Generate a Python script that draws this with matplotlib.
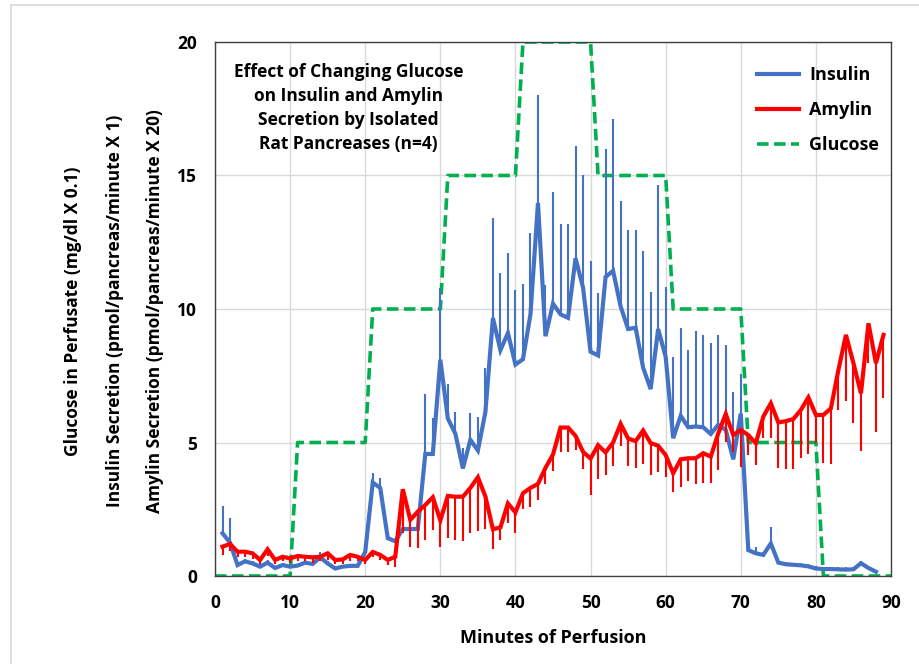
import matplotlib
matplotlib.use("Agg")
import matplotlib.pyplot as plt
import numpy as np
from matplotlib.lines import Line2D

# ---------------- data ----------------
insulin_minutes = list(range(1, 89))
insulin_mean = [1.6, 1.25, 0.41, 0.55, 0.47, 0.35, 0.5, 0.3, 0.41, 0.35,
                0.39, 0.5, 0.45, 0.7, 0.47, 0.28, 0.35, 0.38, 0.38, 0.9,
                3.5, 3.3, 1.42, 1.3, 1.76, 1.76, 1.76, 4.57, 4.57, 8.1,
                5.9, 5.33, 4.03, 5.1, 4.7, 6.14, 9.66, 8.46, 9.1, 7.92,
                8.12, 9.8, 13.97, 8.98, 10.2, 9.8, 9.67, 11.9, 10.8, 8.4,
                8.26, 11.2, 11.43, 10.1, 9.25, 9.3, 7.8, 7.0, 9.25, 8.21,
                5.16, 6.0, 5.57, 5.6, 5.57, 5.32, 5.66, 5.47, 4.37, 6.09,
                0.97, 0.85, 0.79, 1.22, 0.5, 0.44, 0.42, 0.4, 0.36, 0.28,
                0.26, 0.26, 0.25, 0.24, 0.25, 0.48, 0.3, 0.16]
insulin_sem = [1.02, 0.91, 0.09, 0.1, 0.08, 0.1, 0.1, 0.08, 0.09, 0.07,
               0.06, 0.1, 0.07, 0.21, 0.08, 0.07, 0.07, 0.07, 0.07, 0.1,
               0.37, 0.37, 0.13, 0.1, 0.19, 0.14, 0.14, 2.23, 1.33, 2.7,
               1.3, 0.81, 0.77, 1.0, 1.24, 1.66, 3.74, 2.89, 3.0, 2.78,
               2.83, 3.05, 4.03, 1.92, 4.2, 3.4, 3.53, 4.2, 4.2, 3.4,
               2.34, 4.8, 5.67, 3.95, 3.71, 3.66, 4.36, 3.65, 5.41, 2.63,
               3.05, 3.28, 2.89, 3.59, 3.46, 3.39, 3.37, 3.18, 2.53, 1.48,
               0.13, 0.23, 0.11, 0.61, 0.1, 0.08, 0.08, 0.08, 0.09, 0.08,
               0.08, 0.08, 0.08, 0.08, 0.08, 0.07, 0.06, 0.04]

amylin_minutes = list(range(1, 90))
amylin_mean = [1.1, 1.2, 0.91, 0.91, 0.85, 0.6, 1.0, 0.6, 0.72, 0.66,
               0.75, 0.72, 0.7, 0.72, 0.85, 0.6, 0.62, 0.79, 0.72, 0.6,
               0.9, 0.79, 0.6, 0.72, 3.25, 2.1, 2.41, 2.66, 2.95, 2.08,
               3.0, 2.97, 2.97, 3.3, 3.7, 2.98, 1.75, 1.82, 2.72, 2.38,
               3.1, 3.3, 3.45, 4.05, 4.55, 5.56, 5.56, 5.25, 4.65, 4.4,
               4.9, 4.63, 5.0, 5.7, 5.15, 5.05, 5.45, 4.98, 4.88, 4.53,
               3.85, 4.37, 4.41, 4.41, 4.6, 4.47, 5.34, 6.07, 5.28, 5.47,
               5.28, 4.97, 5.97, 6.47, 5.75, 5.8, 5.88, 6.22, 6.69, 6.03,
               6.03, 6.28, 7.72, 9.03, 7.97, 6.84, 9.46, 7.97, 9.03]
amylin_sem = [0.3, 0.25, 0.21, 0.19, 0.2, 0.15, 0.25, 0.15, 0.17, 0.16,
              0.2, 0.17, 0.2, 0.17, 0.25, 0.15, 0.17, 0.24, 0.17, 0.15,
              0.2, 0.19, 0.2, 0.37, 1.65, 1.0, 1.37, 1.31, 1.23, 1.0,
              1.58, 1.62, 1.67, 1.68, 2.0, 1.22, 0.75, 0.47, 0.74, 0.76,
              0.6, 0.73, 0.61, 0.6, 0.63, 0.9, 0.9, 0.52, 0.66, 1.36,
              1.25, 0.85, 0.88, 0.84, 1.03, 1.0, 1.25, 1.18, 0.98, 0.81,
              0.69, 1.02, 0.84, 0.96, 1.13, 1.0, 1.37, 1.04, 0.62, 1.37,
              0.75, 0.81, 0.81, 1.31, 1.72, 1.8, 1.88, 1.81, 2.12, 1.03,
              1.81, 2.09, 1.5, 2.46, 2.23, 2.15, 1.49, 2.57, 2.37]

glucose_minutes = [0, 10, 11, 20, 21, 30, 31, 40, 41, 50, 51, 60, 61, 70, 71, 80, 81, 90]
glucose_level = [0, 0, 5, 5, 10, 10, 15, 15, 20, 20, 15, 15, 10, 10, 5, 5, 0, 0]

x_ticks = [0, 10, 20, 30, 40, 50, 60, 70, 80, 90]
y_ticks = [0, 5, 10, 15, 20]

title_text = "Effect of Changing Glucose\non Insulin and Amylin\nSecretion by Isolated\nRat Pancreases (n=4)"
ylabel_lines = ["Glucose in Perfusate (mg/dl X 0.1)",
                "Insulin Secretion (pmol/pancreas/minute X 1)",
                "Amylin Secretion (pmol/pancreas/minute X 20)"]
xlabel_text = "Minutes of Perfusion"

# ---------------- style ----------------
FONT = "Open Sans"
BLUE = "#4472C4"
RED = "#FF0000"
GREEN = "#00B050"

W, H = 920, 664
fig = plt.figure(figsize=(W / 100, H / 100), dpi=100)
fig.patch.set_facecolor("white")

# outer chart-area border (light gray)
fig.add_artist(Line2D([11 / W, 11 / W], [0, 1 - 5 / H], transform=fig.transFigure,
                      color="#D9D9D9", lw=1.2))
fig.add_artist(Line2D([11 / W, 1], [1 - 5 / H, 1 - 5 / H], transform=fig.transFigure,
                      color="#D9D9D9", lw=1.2))

left, right, top, bottom = 215, 891, 42, 576
ax = fig.add_axes([left / W, 1 - bottom / H, (right - left) / W, (bottom - top) / H])

ax.set_xlim(0, 90)
ax.set_ylim(0, 20)
ax.set_xticks(x_ticks)
ax.set_yticks(y_ticks)
ax.grid(True, color="#D9D9D9", lw=1.0, zorder=0)
ax.set_axisbelow(True)
for s in ax.spines.values():
    s.set_color("#404040")
    s.set_linewidth(1.0)
ax.tick_params(axis="y", length=0, pad=13, labelsize=12.5)
ax.tick_params(axis="x", length=0, pad=13, labelsize=12.5)
for lbl in ax.get_xticklabels() + ax.get_yticklabels():
    lbl.set_fontfamily(FONT)
    lbl.set_fontweight("bold")

# glucose
ax.plot(glucose_minutes, glucose_level, color=GREEN, lw=2.6,
        linestyle=(0, (3.2, 1.5)), zorder=2, label="Glucose")

# insulin with upward error bars
ins_m = np.array(insulin_mean)
ax.vlines(insulin_minutes, ins_m, ins_m + np.array(insulin_sem), color=BLUE, lw=1.5, zorder=3)
ax.plot(insulin_minutes, insulin_mean, color=BLUE, lw=3.0, zorder=4, label="Insulin",
        solid_joinstyle="miter")

# amylin with downward error bars
amy_m = np.array(amylin_mean)
ax.vlines(amylin_minutes, amy_m - np.array(amylin_sem), amy_m, color=RED, lw=1.5, zorder=5)
ax.plot(amylin_minutes, amylin_mean, color=RED, lw=3.0, zorder=6, label="Amylin",
        solid_joinstyle="miter")

# title inside plot
ax.text(17.75, 17.52, title_text, ha="center", va="center", fontsize=12.5,
        fontweight="bold", family=FONT, linespacing=1.42, zorder=7)

# legend
handles = [Line2D([], [], color=BLUE, lw=3.0),
           Line2D([], [], color=RED, lw=3.0),
           Line2D([], [], color=GREEN, lw=2.6, linestyle=(0, (3.2, 1.5)))]
leg = fig.legend(handles, ["Insulin", "Amylin", "Glucose"],
                 loc="upper left", bbox_to_anchor=(757 / W, 1 - 66 / H),
                 frameon=False, borderpad=0, borderaxespad=0,
                 handlelength=2.3, handletextpad=0.6, labelspacing=0.95,
                 prop={"family": FONT, "weight": "bold", "size": 13})

# axis labels
ax.set_xlabel(xlabel_text, fontsize=13, fontweight="bold", family=FONT, labelpad=12)
for xpix, txt in zip([73, 115, 155], ylabel_lines):
    fig.text(xpix / W, 1 - 311 / H, txt, rotation=90, ha="center", va="center",
             fontsize=12.5, fontweight="bold", family=FONT)

fig.savefig("out.png", dpi=100)
